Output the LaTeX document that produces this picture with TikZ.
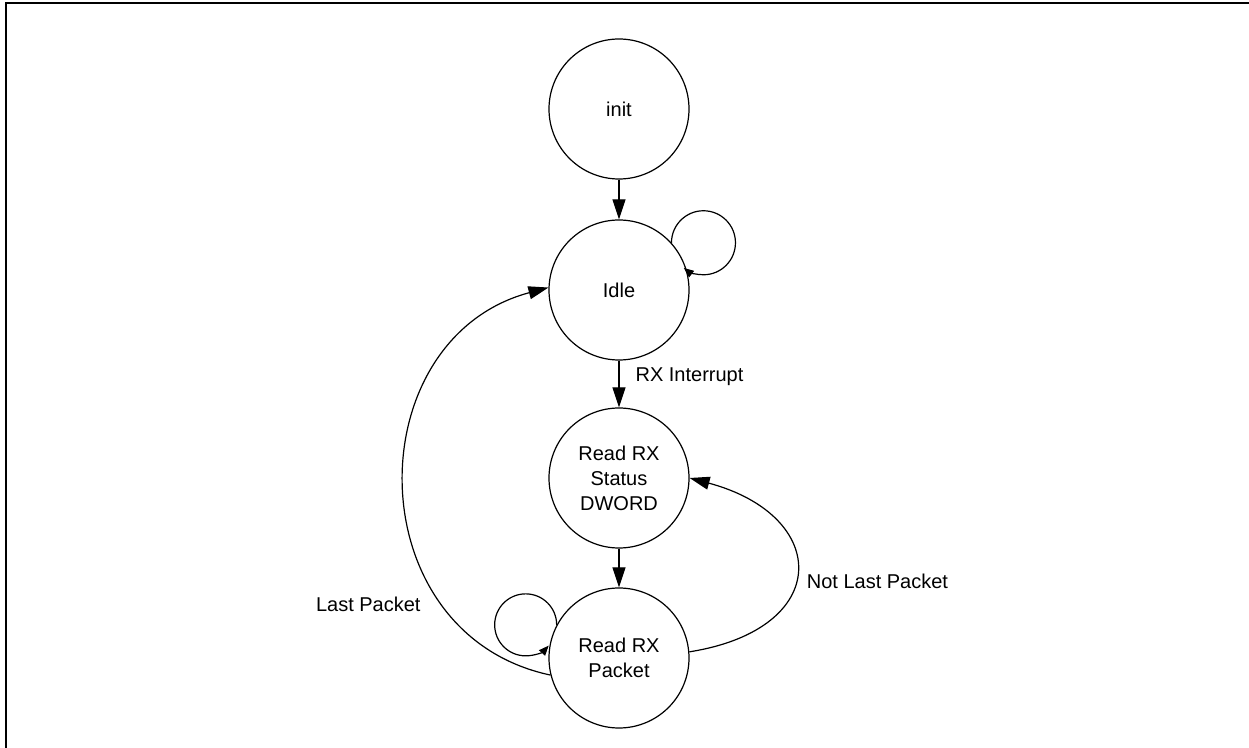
\documentclass[tikz,border=0pt]{standalone}
\usepackage{fontspec}
\setmainfont{Liberation Sans}
\usetikzlibrary{arrows.meta}

\begin{document}
\begin{tikzpicture}[x=0.5pt,y=-0.5pt]
  \tikzset{state/.style = {shape=circle,draw,line width=0.6pt,minimum size=70pt,inner sep=0pt,align=center,font=\fontsize{10}{12.5}\selectfont}}
  \tikzset{edge/.style = {line width=0.6pt,-{Triangle[length=10pt,width=6.5pt]}}}
  \tikzset{loopedge/.style = {line width=0.6pt,-{Triangle[length=5pt,width=4pt]}}}
  \tikzset{edgetext/.style = {inner sep=0pt,font=\fontsize{10}{12.5}\selectfont}}

  \useasboundingbox (0,0) rectangle (1249,748);
  \draw[line width=1pt] (6,748) -- (6,3) -- (1249,3);

	\node[state] (init) at (619,109) {init};
	\node[state] (idle) at (619,290) {Idle};
	\node[state] (stat) at (619,478) {Read RX\\Status\\DWORD};
	\node[state] (pkt) at (619,658) {Read RX\\Packet};

       \foreach \from/\to in {init/idle, stat/pkt}
    \path[edge] (\from) edge (\to);
    \path[edge] (idle) edge node[edgetext, pos=0.35, right=8pt] (rxint) {RX Interrupt} (stat);
    \path[edge] (pkt.5) edge[out=9, in=-15, looseness=2.15] node[edgetext, pos=0.45, right=5.5pt] (notlast) {Not Last Packet} (stat.0);
    \path[edge] (pkt.194) edge[out=168, in=195, looseness=1.31] node[edgetext, pos=0.25, left=10pt] (last) {Last Packet} (idle.178);

    \draw[loopedge] (idle.42) arc[start angle=180, end angle=-128, radius=16pt];
    \draw[loopedge] (pkt.152) arc[start angle=0, end angle=318, radius=15.5pt];
\end{tikzpicture}
\end{document}
